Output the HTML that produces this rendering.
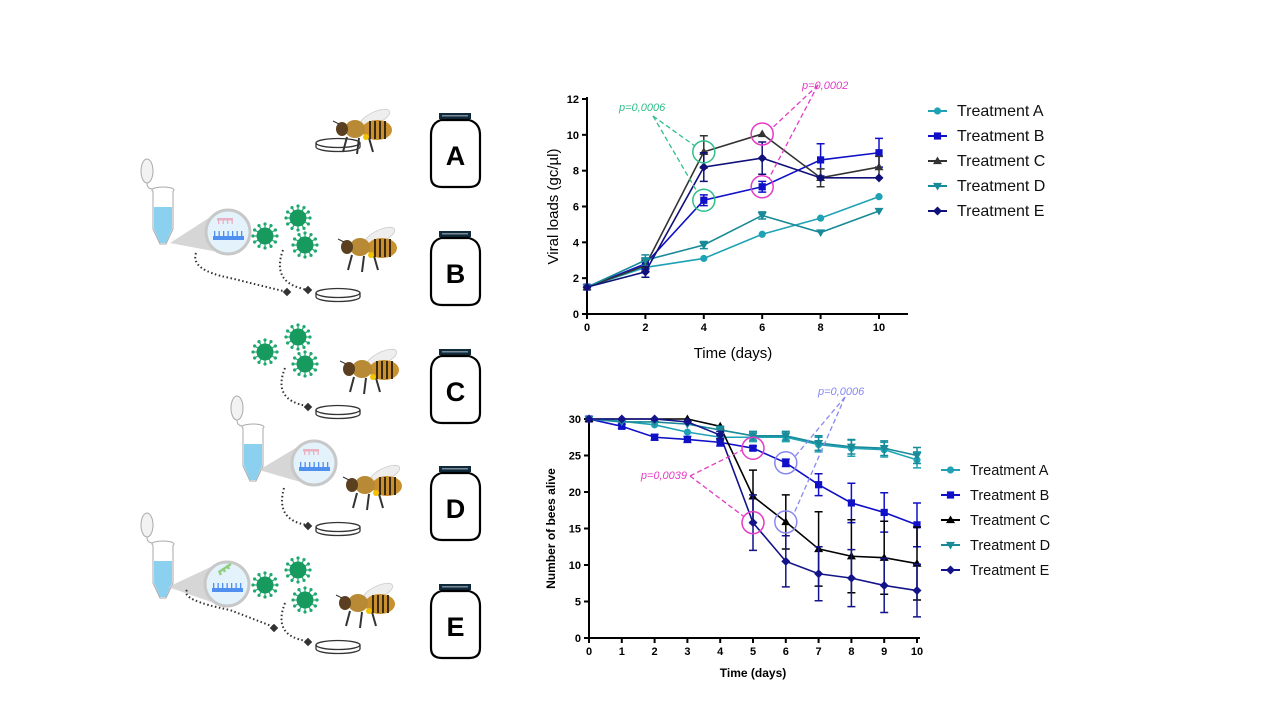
<!DOCTYPE html>
<html><head><meta charset="utf-8">
<style>
html,body{margin:0;padding:0;background:#fff;}
svg{display:block;font-family:"Liberation Sans",Arial,sans-serif;}
</style></head>
<body>
<svg id="root" width="1280" height="720" viewBox="0 0 1280 720">
<g id="illus"></g>
<g id="topchart"></g>
<g id="botchart"></g>
</svg>
<script>
// ---------- Top chart data ----------
const topDays = [0, 2, 4, 6, 8, 10];
const topYTicks = [0, 2, 4, 6, 8, 10, 12];
const topA = [1.5, 2.6, 3.1, 4.45, 5.35, 6.55];
const topB = [1.5, 2.8, 6.35, 7.1, 8.6, 9.0];
const topC = [1.5, 2.7, 9.05, 10.05, 7.6, 8.2];
const topD = [1.5, 3.0, 3.85, 5.5, 4.55, 5.75];
const topE = [1.5, 2.35, 8.2, 8.7, 7.6, 7.6];
const topErrA = [0, 0, 0, 0, 0, 0];
const topErrB = [0, 0.3, 0.3, 0.3, 0.9, 0.8];
const topErrC = [0, 0.3, 0.9, 0, 0.5, 0.6];
const topErrD = [0, 0.3, 0.2, 0.2, 0, 0];
const topErrE = [0, 0.3, 0.8, 0.9, 0, 0];
// ---------- Bottom chart data ----------
const botDays = [0,1,2,3,4,5,6,7,8,9,10];
const botYTicks = [0,5,10,15,20,25,30];
const botA = [30,29.7,29.2,28.2,27.5,27.5,27.5,26.5,26.0,25.8,24.4];
const botB = [30,29,27.5,27.2,26.8,26,24,21,18.5,17.2,15.5];
const botC = [30,30,30,30,29,19.4,15.9,12.2,11.2,11,10.2];
const botD = [30,29.6,29.6,29.3,28.5,27.7,27.7,26.7,26.2,26,25];
const botE = [30,30,30,29.6,27.8,15.8,10.5,8.8,8.2,7.2,6.5];
const botErrA = [0,0,0,0,0.4,0.6,0.6,1,1.1,1,1.1];
const botErrB = [0,0.3,0.4,0.4,0.5,0.3,0.5,1.5,2.7,2.7,3];
const botErrC = [0,0,0,0,0,3.6,3.7,5.1,5,5,5];
const botErrD = [0,0,0,0,0.5,0.6,0.6,1,1,1,1.1];
const botErrE = [0,0,0,0,0.5,3.8,3.5,3.7,3.9,3.7,3.6];
const seriesNames = ["Treatment A","Treatment B","Treatment C","Treatment D","Treatment E"];

const NS="http://www.w3.org/2000/svg";
function mk(parent,tag,attrs){const e=document.createElementNS(NS,tag);for(const k in attrs)e.setAttribute(k,attrs[k]);parent.appendChild(e);return e;}

const styles=[
 {color:"#1fa2b5",shape:"circle"},
 {color:"#1010c8",shape:"square"},
 {color:"#333333",shape:"tri"},
 {color:"#188a98",shape:"tridown"},
 {color:"#10107a",shape:"diamond"}];
const botStyles=[
 {color:"#1fa2b5",shape:"circle"},
 {color:"#1010c8",shape:"square"},
 {color:"#000000",shape:"tri"},
 {color:"#188a98",shape:"tridown"},
 {color:"#14148a",shape:"diamond"}];

function marker(g,shape,x,y,s,color){
  let e;
  if(shape==="circle") e=mk(g,"circle",{cx:x,cy:y,r:s*0.8,fill:color});
  else if(shape==="square") e=mk(g,"rect",{x:x-s*0.8,y:y-s*0.8,width:s*1.6,height:s*1.6,fill:color});
  else if(shape==="tri") e=mk(g,"polygon",{points:`${x},${y-s} ${x+s},${y+s*0.7} ${x-s},${y+s*0.7}`,fill:color});
  else if(shape==="tridown") e=mk(g,"polygon",{points:`${x},${y+s} ${x+s},${y-s*0.7} ${x-s},${y-s*0.7}`,fill:color});
  else e=mk(g,"polygon",{points:`${x},${y-s} ${x+s},${y} ${x},${y+s} ${x-s},${y}`,fill:color});
  return e;
}

function chart(g,cfg){
  const xs=v=>cfg.x0+(v-cfg.xmin)/(cfg.xmax-cfg.xmin)*(cfg.x1-cfg.x0);
  const ys=v=>cfg.y0-(v-cfg.ymin)/(cfg.ymax-cfg.ymin)*(cfg.y0-cfg.y1);
  const ax=mk(g,"path",{d:`M${cfg.x0},${cfg.y1-2} V${cfg.y0} H${cfg.xEnd}`,stroke:"#000","stroke-width":2,fill:"none"});
  
  
  cfg.yticks.forEach(t=>{
    mk(g,"line",{x1:cfg.x0-5,x2:cfg.x0,y1:ys(t),y2:ys(t),stroke:"#000","stroke-width":2});
    const tx=mk(g,"text",{x:cfg.x0-8,y:ys(t)+4,"text-anchor":"end","font-size":11,"font-weight":"bold"});
    tx.textContent=t;
    
    
  });
  cfg.xticks.forEach(t=>{
    mk(g,"line",{x1:xs(t),x2:xs(t),y1:cfg.y0,y2:cfg.y0+5,stroke:"#000","stroke-width":2});
    const tx=mk(g,"text",{x:xs(t),y:cfg.y0+17,"text-anchor":"middle","font-size":11,"font-weight":"bold"});
    tx.textContent=t;
    
    
  });
  const xt=mk(g,"text",{x:(cfg.x0+cfg.x1)/2,y:cfg.y0+cfg.xtOff,"text-anchor":"middle","font-size":cfg.titleSize,"font-weight":cfg.titleWeight});
  xt.textContent="Time (days)";
  
  
  const yt=mk(g,"text",{x:0,y:0,"text-anchor":"middle","font-size":cfg.titleSize,"font-weight":cfg.titleWeight,transform:`translate(${cfg.ytX},${(cfg.y0+cfg.y1)/2}) rotate(-90)`});
  yt.textContent=cfg.ytitle;
  
  
  cfg.series.forEach((vals,i)=>{
    const st=cfg.styles[i];
    const sg=mk(g,"g",{});
    
    
    const errs=cfg.errs[i];
    vals.forEach((v,j)=>{
      const e=errs[j]; if(!e) return;
      const x=xs(cfg.xvals[j]);
      mk(sg,"path",{d:`M${x},${ys(v-e)} V${ys(v+e)} M${x-4},${ys(v-e)} H${x+4} M${x-4},${ys(v+e)} H${x+4}`,stroke:st.color,"stroke-width":1.5,fill:"none"});
    });
    const pts=vals.map((v,j)=>xs(cfg.xvals[j])+","+ys(v)).join(" ");
    const pl=mk(sg,"polyline",{points:pts,fill:"none",stroke:st.color,"stroke-width":1.6});
    
    
    vals.forEach((v,j)=>{
      const m=marker(sg,st.shape,xs(cfg.xvals[j]),ys(v),cfg.ms,st.color);
      
      
    });
  });
  const lg=mk(g,"g",{});
  
  
  seriesNames.forEach((n,i)=>{
    const y=cfg.legY+i*cfg.legDy, st=cfg.styles[i];
    const le=mk(lg,"g",{});
    
    
    mk(le,"line",{x1:cfg.legX,x2:cfg.legX+19,y1:y,y2:y,stroke:st.color,"stroke-width":2});
    marker(le,st.shape,cfg.legX+9.5,y,4.5,st.color);
    const t=mk(le,"text",{x:cfg.legX+29,y:y+5,"font-size":cfg.legFont,fill:"#111"});
    t.textContent=n;
  });
  return {xs,ys};
}

const topG=document.getElementById("topchart");
const T=chart(topG,{x0:587,x1:879,xEnd:908,y0:314,y1:99,xmin:0,xmax:10,ymin:0,ymax:12,
  xticks:topDays,yticks:topYTicks,xvals:topDays,series:[topA,topB,topC,topD,topE],
  errs:[topErrA,topErrB,topErrC,topErrD,topErrE],styles:styles,ms:4.5,
  ytitle:"Viral loads (gc/\u00b5l)",ytX:558,xtOff:44,titleSize:15,titleWeight:"normal",
  legX:928,legY:111,legDy:25,legFont:16});
const botG=document.getElementById("botchart");
const B=chart(botG,{x0:589,x1:917,xEnd:920,y0:638,y1:419,xmin:0,xmax:10,ymin:0,ymax:30,
  xticks:botDays,yticks:botYTicks,xvals:botDays,series:[botA,botB,botC,botD,botE],
  errs:[botErrA,botErrB,botErrC,botErrD,botErrE],styles:botStyles,ms:4.5,
  ytitle:"Number of bees alive",ytX:555,xtOff:39,titleSize:12,titleWeight:"bold",
  legX:941,legY:470,legDy:25,legFont:14.5});

function annot(g,circles,lbl,lx,ly,tip,color,anchor){
  const ag=mk(g,"g",{});
  
  
  circles.forEach(c=>{
    mk(ag,"circle",{cx:c[0],cy:c[1],r:11,fill:"none",stroke:color,"stroke-width":1.5});
    mk(ag,"line",{x1:tip[0],y1:tip[1],x2:c[2],y2:c[3],stroke:color,"stroke-width":1.3,"stroke-dasharray":"5,3"});
  });
  const t=mk(ag,"text",{x:lx,y:ly,"font-size":11,"font-style":"italic",fill:color,"text-anchor":anchor});
  t.textContent=lbl;
}
annot(topG,[[T.xs(4),T.ys(topC[2]),T.xs(4)-9,T.ys(topC[2])-6],[T.xs(4),T.ys(topB[2]),T.xs(4)-7,T.ys(topB[2])-9]],
  "p=0,0006",619,111,[653,116],"#2fbf8a","start");
annot(topG,[[T.xs(6),T.ys(topC[3]),T.xs(6)+9,T.ys(topC[3])-5],[T.xs(6),T.ys(topB[3]),T.xs(6)+7,T.ys(topB[3])-9]],
  "p=0,0002",802,89,[818,85],"#e63bc7","start");
annot(botG,[[B.xs(5),B.ys(botB[5]),B.xs(5)-11,B.ys(botB[5])+2],[B.xs(5),B.ys(botE[5]),B.xs(5)-9,B.ys(botE[5])-6]],
  "p=0,0039",687,479,[690,476],"#e63bc7","end");
annot(botG,[[B.xs(6),B.ys(botB[6]),B.xs(6)+9,B.ys(botB[6])-6],[B.xs(6),B.ys(botC[6]),B.xs(6)+8,B.ys(botC[6])-8]],
  "p=0,0006",818,395,[845,397],"#8888f0","start");

// ---------- illustration ----------
const il=document.getElementById("illus");
const jarLetters=["A","B","C","D","E"];
const jarTops=[113,231,349,466,584];
jarLetters.forEach((L,i)=>{
  const y=jarTops[i];
  const jg=mk(il,"g",{});
  
  
  mk(jg,"rect",{x:439,y:y,width:32,height:6,fill:"#0f2a3a"});
  mk(jg,"rect",{x:442,y:y+2,width:26,height:1.5,fill:"#7a8a95"});
  mk(jg,"path",{d:`M441,${y+7} Q431,${y+10} 431,${y+22} V${y+64} Q431,${y+74} 442,${y+74} H469 Q480,${y+74} 480,${y+64} V${y+22} Q480,${y+10} 469,${y+7} Z`,fill:"#fff",stroke:"#000","stroke-width":2.2});
  const t=mk(jg,"text",{x:455.5,y:y+52,"text-anchor":"middle","font-size":27,"font-weight":"bold"});
  t.textContent=L;
});
function dish(x,y){const d=mk(il,"g",{});
  mk(d,"ellipse",{cx:x,cy:y-2,rx:22,ry:4.5,fill:"none",stroke:"#333","stroke-width":1.3});
  mk(d,"path",{d:`M${x-22},${y-2} V${y+2} A22,4.5 0 0 0 ${x+22},${y+2} V${y-2}`,fill:"none",stroke:"#333","stroke-width":1.3});}
[[338,145],[338,295],[338,412],[338,529],[338,647]].forEach(p=>dish(p[0],p[1]));
function bee(x,y){const b=mk(il,"g",{});
  mk(b,"ellipse",{cx:x+18,cy:y-14,rx:16,ry:6,fill:"#eee",stroke:"#ccc","stroke-width":0.8,transform:`rotate(-25 ${x+18} ${y-14})`});
  mk(b,"line",{x1:x-10,y1:y+5,x2:x-14,y2:y+20,stroke:"#333","stroke-width":2});
  mk(b,"line",{x1:x+2,y1:y+6,x2:x,y2:y+22,stroke:"#333","stroke-width":2});
  mk(b,"line",{x1:x+12,y1:y+6,x2:x+16,y2:y+20,stroke:"#333","stroke-width":2});
  mk(b,"ellipse",{cx:x+20,cy:y-2,rx:15,ry:10,fill:"#c8902e"});
  for(let k=0;k<4;k++) mk(b,"rect",{x:x+12+k*5,y:y-11,width:2,height:18,fill:"#3a2a12"});
  mk(b,"ellipse",{cx:x-2,cy:y-3,rx:10,ry:9,fill:"#b88a35"});
  mk(b,"ellipse",{cx:x-15,cy:y-3,rx:6,ry:7,fill:"#5a4020"});
  mk(b,"circle",{cx:x+9,cy:y+5,r:3,fill:"#f2c200"});
  mk(b,"line",{x1:x-18,y1:y-8,x2:x-24,y2:y-11,stroke:"#333","stroke-width":1});}
[[357,132],[362,250],[364,372],[367,488],[360,606]].forEach(p=>bee(p[0],p[1]));
function virus(x,y){const v=mk(il,"g",{});
  for(let k=0;k<12;k++){const a=k*Math.PI/6;mk(v,"line",{x1:x,y1:y,x2:x+12*Math.cos(a),y2:y+12*Math.sin(a),stroke:"#1fa870","stroke-width":1.2});
    mk(v,"circle",{cx:x+12*Math.cos(a),cy:y+12*Math.sin(a),r:1.6,fill:"#1fa870"});}
  mk(v,"circle",{cx:x,cy:y,r:8.5,fill:"#169a5e"});}
[[265,236],[298,218],[305,245],[265,352],[298,337],[305,364],[265,585],[298,570],[305,600]].forEach(p=>virus(p[0],p[1]));
function tube(x,y){const t=mk(il,"g",{});
  mk(t,"ellipse",{cx:x-6,cy:y+12,rx:6,ry:12,fill:"#f2f2f2",stroke:"#aaa","stroke-width":1});
  mk(t,"path",{d:`M${x-6},${y+24} Q${x-6},${y+30} ${x},${y+30}`,stroke:"#aaa",fill:"none"});
  mk(t,"ellipse",{cx:x+10,cy:y+31,rx:11,ry:3,fill:"#fff",stroke:"#aaa"});
  mk(t,"path",{d:`M${x},${y+32} V${y+70} L${x+7},${y+85} L${x+13},${y+85} L${x+20},${y+70} V${y+32}`,fill:"#fff",stroke:"#aaa"});
  mk(t,"path",{d:`M${x+1},${y+48} H${x+19} V${y+70} L${x+13},${y+84} H${x+7} L${x+1},${y+70} Z`,fill:"#8cd0f0"});
  return t;}
function lens(tx,ty,cx,cy,green){const l=mk(il,"g",{});
  mk(l,"polygon",{points:`${tx},${ty} ${cx-10},${cy-20} ${cx-10},${cy+20}`,fill:"#ccc",opacity:0.8});
  mk(l,"circle",{cx:cx,cy:cy,r:22,fill:"#e4f3fb",stroke:"#c8c8c8","stroke-width":3});
  mk(l,"rect",{x:cx-15,y:cy+4,width:31,height:4,fill:"#4f8ff0"});
  for(let k=0;k<7;k++) mk(l,"rect",{x:cx-14+k*4.5,y:cy-1,width:1.3,height:5,fill:"#4f8ff0"});
  if(green){mk(l,"path",{d:`M${cx-8},${cy-12} l12,-8 M${cx-6},${cy-9} l-2,-4 M${cx-2},${cy-12} l-2,-4 M${cx+2},${cy-15} l-2,-4`,stroke:"#8fcf80","stroke-width":2.5,fill:"none"});}
  else{mk(l,"rect",{x:cx-11,y:cy-14,width:16,height:2.5,fill:"#e8b0c0"});
    for(let k=0;k<4;k++) mk(l,"rect",{x:cx-10+k*4.5,y:cy-12,width:1.3,height:4,fill:"#e8b0c0"});}}
tube(153,159);lens(170,243,228,232,false);
tube(243,396);lens(259,470,314,463,false);
tube(153,513);lens(168,587,227,584,true);
function dots(d){const p=mk(il,"path",{d:d,fill:"none",stroke:"#333","stroke-width":2,"stroke-dasharray":"1.5,2.5"});
  
  }
function diam(x,y){mk(il,"rect",{x:x-3,y:y-3,width:6,height:6,fill:"#333",transform:`rotate(45 ${x} ${y})`});}
dots("M196,253 Q190,270 230,278 L287,292");diam(287,292);
dots("M283,250 Q272,280 300,288 L307,290");diam(308,290);
dots("M285,368 Q272,400 307,406");diam(308,407);
dots("M284,488 Q275,520 307,525");diam(308,526);
dots("M187,590 Q180,600 230,610 L274,627");diam(274,628);
dots("M285,603 Q272,636 307,641");diam(308,642);
</script>
</body></html>
